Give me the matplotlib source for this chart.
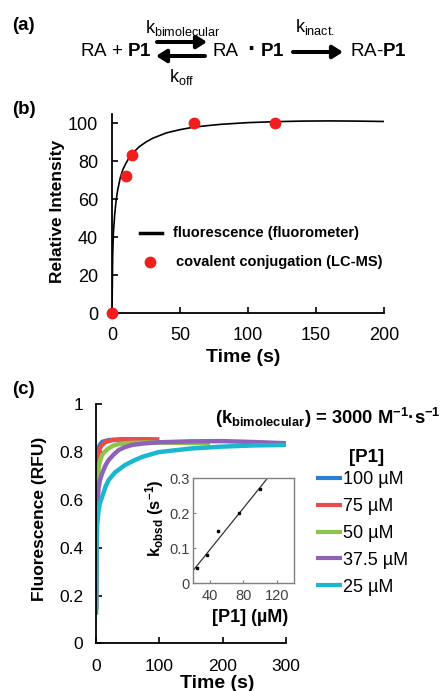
import matplotlib
matplotlib.use("Agg")
import matplotlib.pyplot as plt
from matplotlib.patches import FancyArrowPatch

plt.rcParams['font.family'] = ['Liberation Sans', 'DejaVu Sans']
plt.rcParams['mathtext.fontset'] = 'custom'
plt.rcParams['mathtext.rm'] = 'Liberation Sans'
plt.rcParams['mathtext.bf'] = 'Liberation Sans:bold'
plt.rcParams['mathtext.it'] = 'Liberation Sans:italic'

# ---------- data ----------
# panel (b)
fluor_t = [0, 0.5, 1, 2, 3, 4, 6, 8, 10, 12, 15, 20, 25, 30, 40, 50, 60, 70, 80, 100, 120, 140, 160, 180, 200]
fluor_y = [0, 30, 42, 52, 59, 64, 71, 75.5, 78.5, 81, 84, 87.5, 90, 92, 94.8, 96.5, 97.8, 98.6, 99.3, 100.2, 100.7, 101, 101.1, 101, 100.8]
lcms_t = [0, 10, 15, 60, 120]
lcms_y = [0, 72, 83, 100, 100]
b_xticks = [0, 50, 100, 150, 200]
b_yticks = [0, 20, 40, 60, 80, 100]

# panel (c)
conc_labels = ['100 µM', '75 µM', '50 µM', '37.5 µM', '25 µM']
conc_colors = ['#2a7fd0', '#e84c4c', '#8dc44a', '#8e62b8', '#1bb6cf']
t100 = [0, 0.5, 1, 2, 4, 6, 10, 20, 40, 60]
y100 = [0.14, 0.5, 0.66, 0.77, 0.815, 0.83, 0.843, 0.85, 0.853, 0.853]
t75 = [0, 0.5, 1, 2, 4, 6, 9.5, 15, 25, 40, 60, 80, 100]
y75 = [0.14, 0.45, 0.62, 0.74, 0.79, 0.815, 0.83, 0.842, 0.85, 0.853, 0.854, 0.854, 0.853]
t50 = [0, 0.5, 1, 2, 4, 6, 9.5, 15, 20, 28, 36, 50, 75, 100, 150, 180]
y50 = [0.12, 0.4, 0.55, 0.66, 0.73, 0.76, 0.788, 0.805, 0.816, 0.828, 0.834, 0.838, 0.84, 0.84, 0.838, 0.836]
t37 = [0, 0.5, 1, 2, 4, 6, 9.5, 15, 20, 28, 36, 45, 57, 75, 99, 150, 200, 250, 300]
y37 = [0.14, 0.35, 0.48, 0.57, 0.65, 0.68, 0.71, 0.745, 0.767, 0.79, 0.809, 0.82, 0.83, 0.836, 0.841, 0.845, 0.846, 0.842, 0.837]
t25 = [0, 0.5, 1, 2, 4, 6, 10, 15, 20, 30, 46, 60, 73, 99, 133, 150, 200, 250, 300]
y25 = [0.12, 0.3, 0.42, 0.5, 0.555, 0.585, 0.615, 0.655, 0.683, 0.715, 0.746, 0.765, 0.78, 0.8, 0.81, 0.815, 0.823, 0.828, 0.83]
c_xticks = [0, 100, 200, 300]
c_yticks = [0, 0.2, 0.4, 0.6, 0.8, 1]
c_yticklabels = ['0', '0.2', '0.4', '0.6', '0.8', '1']

# inset
kobs_conc = [25, 37.5, 50, 75, 100]
kobs_val = [0.045, 0.08, 0.15, 0.2, 0.27]
fit_x = [20, 108.5]
fit_y = [0.035, 0.3]
ins_xticks = [40, 80, 120]
ins_yticks = [0, 0.1, 0.2, 0.3]
ins_yticklabels = ['0', '0.1', '0.2', '0.3']

# ---------- figure ----------
W, H = 447, 691
fig = plt.figure(figsize=(W / 100, H / 100), dpi=100)

def fx(px):
    return px / W

def fy(py):
    return 1 - py / H

# ---- panel (a): scheme ----
fig.text(fx(12), fy(25), '(a)', fontsize=13.5, fontweight='bold', va='center', ha='left')
fig.text(fx(80), fy(52), r'RA + $\mathbf{P1}$', fontsize=13.5, va='center', ha='left')
fig.text(fx(213), fy(52), r'RA', fontsize=13.5, va='center', ha='left')
fig.text(fx(251), fy(50), '·', fontsize=18, fontweight='bold', va='center', ha='center')
fig.text(fx(284), fy(52), r'$\mathbf{P1}$', fontsize=13.5, va='center', ha='right')
fig.text(fx(350), fy(52), r'RA-$\mathbf{P1}$', fontsize=13.5, va='center', ha='left')
fig.text(fx(182.5), fy(37.5), r'k$_{\mathrm{bimolecular}}$', fontsize=13, va='bottom', ha='center')
fig.text(fx(182), fy(67), r'k$_{\mathrm{off}}$', fontsize=13, va='top', ha='center')
fig.text(fx(315), fy(37), r'k$_{\mathrm{inact.}}$', fontsize=13, va='bottom', ha='center')
arr = dict(arrowstyle='-|>,head_length=0.6,head_width=0.38', mutation_scale=10,
           color='black', lw=2.9, shrinkA=0, shrinkB=0, transform=fig.transFigure)
fig.add_artist(FancyArrowPatch((fx(157), fy(42)), (fx(207), fy(42)), **arr))
fig.add_artist(FancyArrowPatch((fx(205), fy(56)), (fx(156), fy(56)), **arr))
fig.add_artist(FancyArrowPatch((fx(293), fy(52)), (fx(343), fy(52)), **arr))

# ---- panel (b) ----
axb = fig.add_axes([fx(112), fy(313), fx(384) - fx(112), fy(113.5) - fy(313)])
axb.plot(fluor_t, fluor_y, color='black', lw=1.2)
axb.plot(lcms_t, lcms_y, 'o', color='#f21d1d', ms=8.5, mec='none', clip_on=False, zorder=5)
axb.set_xlim(0, 200)
axb.set_ylim(0, 105)
axb.set_xticks(b_xticks)
axb.set_yticks(b_yticks)
for s in ['top', 'right']:
    axb.spines[s].set_visible(False)
for s in ['left', 'bottom']:
    axb.spines[s].set_linewidth(1.3)
axb.tick_params(direction='in', length=4, width=1.2, labelsize=13)
axb.tick_params(axis='y', pad=10)
axb.tick_params(axis='x', pad=10)
fig.text(fx(243), fy(358), 'Time (s)', fontsize=14, fontweight='bold', va='center', ha='center')
fig.text(fx(58), fy(211), 'Relative Intensity', fontsize=12.5, fontweight='bold', va='center',
         ha='center', rotation=90)
fig.text(fx(12), fy(110), '(b)', fontsize=13.5, fontweight='bold', va='center', ha='left')
# legend (b)
axb.plot([0.103, 0.184], [0.40, 0.40], color='black', lw=2.5, transform=axb.transAxes, clip_on=False)
axb.text(0.224, 0.40, 'fluorescence (fluorometer)', transform=axb.transAxes,
         fontsize=10.5, fontweight='bold', va='center', ha='left')
axb.plot([0.14], [0.257], 'o', color='#f21d1d', ms=8.5, mec='none', transform=axb.transAxes, clip_on=False)
axb.text(0.235, 0.257, 'covalent conjugation (LC-MS)', transform=axb.transAxes,
         fontsize=10.5, fontweight='bold', va='center', ha='left')

# ---- panel (c) ----
axc = fig.add_axes([fx(96), fy(643.3), fx(286) - fx(96), fy(404.3) - fy(643.3)])
series = [(t100, y100), (t75, y75), (t50, y50), (t37, y37), (t25, y25)]
handles = []
for (tt, yy), lab, col in zip(series, conc_labels, conc_colors):
    h, = axc.plot(tt, yy, color=col, lw=3.2, label=lab, solid_capstyle='butt')
    handles.append(h)
axc.set_xlim(0, 300)
axc.set_ylim(0, 1)
axc.set_xticks(c_xticks)
axc.set_yticks(c_yticks)
axc.set_yticklabels(c_yticklabels)
for s in ['top', 'right']:
    axc.spines[s].set_visible(False)
for s in ['left', 'bottom']:
    axc.spines[s].set_linewidth(1.3)
axc.tick_params(direction='in', length=4, width=1.2, labelsize=12.5)
axc.tick_params(axis='y', pad=9)
axc.tick_params(axis='x', pad=11)
fig.text(fx(217), fy(683), 'Time (s)', fontsize=14, fontweight='bold', va='center', ha='center')
fig.text(fx(40), fy(519), 'Fluorescence (RFU)', fontsize=12.5, fontweight='bold', va='center',
         ha='center', rotation=90)
fig.text(fx(12), fy(390), '(c)', fontsize=13.5, fontweight='bold', va='center', ha='left')
fig.text(fx(215), fy(418), r'(k$_{\mathbf{bimolecular}}$) = 3000 M$^{\mathbf{-1}}$·s$^{\mathbf{-1}}$',
         fontsize=13.2, fontweight='bold', va='center', ha='left')
fig.text(fx(367), fy(457), '[P1]', fontsize=13.5, fontweight='bold', va='center', ha='center')
leg = fig.legend(handles=handles, labels=conc_labels, loc='upper left',
                 bbox_to_anchor=(fx(316), fy(471)), frameon=False, fontsize=13,
                 handlelength=1.45, handletextpad=0.05, labelspacing=0.55, borderaxespad=0,
                 borderpad=0)
for lh in leg.get_lines():
    lh.set_linewidth(3)

# ---- inset ----
axi = fig.add_axes([fx(192.7), fy(583.3), fx(294) - fx(192.7), fy(478.3) - fy(583.3)])
axi.plot(fit_x, fit_y, color='#333333', lw=0.9)
axi.plot(kobs_conc, kobs_val, 's', color='black', ms=1.8)
axi.set_xlim(20, 140)
axi.set_ylim(0, 0.3)
axi.set_xticks(ins_xticks)
axi.set_yticks(ins_yticks)
axi.set_yticklabels(ins_yticklabels)
for s in axi.spines.values():
    s.set_color('#808080')
    s.set_linewidth(1.0)
axi.tick_params(direction='in', length=2.5, width=0.8, color='#808080', labelsize=10.5,
                labelcolor='#404040')
axi.tick_params(axis='y', pad=2)
axi.tick_params(axis='x', pad=4)
fig.text(fx(250), fy(618), '[P1] (µM)', fontsize=13, fontweight='bold', va='center', ha='center')
fig.text(fx(155), fy(518), r'k$_{\mathbf{obsd}}$ (s$^{\mathbf{-1}}$)', fontsize=12, fontweight='bold',
         va='center', ha='center', rotation=90)

fig.savefig('out.png', dpi=100)
